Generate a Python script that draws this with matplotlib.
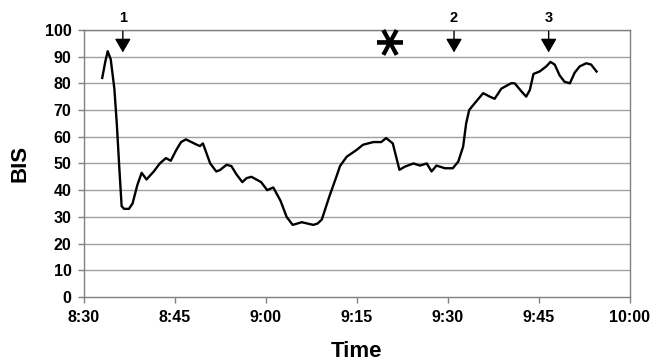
import matplotlib
matplotlib.use('Agg')
import matplotlib.pyplot as plt

# minutes after 8:30
minutes = [3.0, 3.5, 3.9, 4.4, 5.0, 5.4, 5.8, 6.2, 6.6, 7.4, 8.0, 8.8, 9.5, 10.3, 11.5,
           12.5, 13.5, 14.3, 15.2, 16.0, 16.8, 17.7, 18.6, 19.1, 19.6, 20.8, 21.8, 22.4,
           23.5, 24.3, 25.1, 26.1, 26.8, 27.6, 28.4, 29.2, 30.2, 31.2, 32.4, 33.4, 34.4,
           35.9, 37.8, 38.5, 39.2, 40.5, 41.6, 42.2, 43.3, 44.9, 46.0, 47.7, 49.0, 49.8,
           50.9, 52.0, 52.9, 54.3, 55.4, 56.5, 57.3, 58.1, 59.5, 60.8, 61.7, 62.5, 63.0,
           63.5, 64.4, 65.8, 66.9, 67.7, 68.8, 70.4, 71.0, 72.1, 72.9, 73.5, 74.1, 75.1,
           76.2, 76.9, 77.6, 78.4, 79.2, 80.1, 80.9, 81.7, 82.8, 83.6, 84.5]
bis = [82, 88, 92, 89, 78, 65, 49, 34, 33, 33, 35, 42, 46.5, 44, 47,
       50, 52, 51, 55, 58, 59, 58, 57, 56.5, 57.5, 50, 47, 47.5,
       49.5, 49, 46, 43, 44.5, 45, 44, 43, 40, 41, 36, 30, 27,
       28, 27, 27.5, 29, 38, 45, 49, 52.5, 55, 57, 58, 58, 59.5,
       57.5, 47.6, 48.8, 50, 49.2, 50, 47, 49.2, 48.2, 48.2, 50.7, 56.3, 65,
       70, 72.5, 76.3, 75, 74.2, 78, 80, 80, 77, 75, 77.5, 83.5, 84.4,
       86.3, 88, 87, 83, 80.6, 80, 84, 86.3, 87.5, 87, 84.4]

tick_minutes = [0, 15, 30, 45, 60, 75, 90]
tick_labels = ['8:30', '8:45', '9:00', '9:15', '9:30', '9:45', '10:00']

event_labels = ['1', '2', '3']
event_minutes = [6.4, 61.0, 76.6]
asterisk_minute = 50.0

plt.rcParams['font.family'] = ['Liberation Sans', 'DejaVu Sans']
plt.rcParams['font.weight'] = 'bold'

fig = plt.figure(figsize=(6.69, 3.64), dpi=100)
ax = fig.add_axes([0.1256, 0.184, 0.816, 0.734])

for y in range(10, 101, 10):
    ax.axhline(y, color='#a0a0a0', lw=1, zorder=1)

ax.plot(minutes, bis, color='black', lw=1.7, zorder=3)

ax.set_xlim(0, 90)
ax.set_ylim(0, 100)
ax.set_xticks(tick_minutes)
ax.set_xticklabels(tick_labels)
ax.set_yticks(range(0, 101, 10))
ax.tick_params(axis='both', labelsize=11.5, colors='black', length=4, width=1,
               direction='out', pad=5)
ax.tick_params(axis='both', color='#808080')
for s in ax.spines.values():
    s.set_color('#808080')
    s.set_linewidth(1)

ax.set_xlabel('Time', fontsize=16, fontweight='bold', labelpad=12)
ax.set_ylabel('BIS', fontsize=16, fontweight='bold', labelpad=10)

for lab, m in zip(event_labels, event_minutes):
    ax.annotate('', xy=(m, 90.5), xytext=(m, 100.5),
                arrowprops=dict(arrowstyle='-|>,head_length=0.6,head_width=0.35',
                                color='black', lw=1, mutation_scale=14),
                annotation_clip=False, zorder=4)
    ax.text(m, 102, lab, ha='center', va='bottom', fontsize=10.5,
            fontweight='bold', clip_on=False)

# rotated so the asterisk has a horizontal bar, nudged back to centre
ax.annotate('*', xy=(asterisk_minute, 95.3), xytext=(11, 1.5),
            textcoords='offset points', ha='center', va='center', fontsize=40,
            rotation=90, family='DejaVu Sans', fontweight='bold')

fig.savefig('out.png', dpi=100)
